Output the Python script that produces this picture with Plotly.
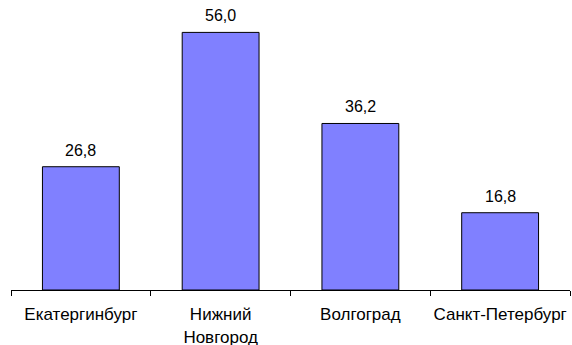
import plotly.graph_objects as go

categories = ["Екатергинбург", "Нижний<br>Новгород", "Волгоград", "Санкт-Петербург"]
values = [26.8, 56.0, 36.2, 16.8]
labels = [f"{v:.1f}".replace(".", ",") for v in values]

fig = go.Figure()
fig.add_trace(go.Bar(
    x=categories, y=values,
    marker=dict(color="#8080FF", line=dict(color="#000000", width=1)),
    hoverinfo="skip",
))
for c, v, t in zip(categories, values, labels):
    fig.add_annotation(x=c, y=v, text=t, showarrow=False, yanchor="bottom", yshift=6,
                       font=dict(family="Liberation Sans, Arial", size=16, color="#000000"))

fig.update_layout(
    width=572, height=345,
    margin=dict(l=11, r=2, t=14, b=55, autoexpand=False),
    paper_bgcolor="white", plot_bgcolor="white",
    bargap=0.45,
    showlegend=False,
    font=dict(family="Liberation Sans, Arial", size=16, color="#000000"),
    xaxis=dict(showline=True, linecolor="#000000", linewidth=1, ticks="outside",
               tickson="boundaries", ticklen=5, tickcolor="#000000", showgrid=False,
               ticklabelstandoff=9, tickfont=dict(size=17), tickangle=0,
               automargin=False, fixedrange=True),
    yaxis=dict(visible=False, range=[0, 60], showgrid=False, zeroline=False, fixedrange=True),
)
fig.write_html("out.html")
